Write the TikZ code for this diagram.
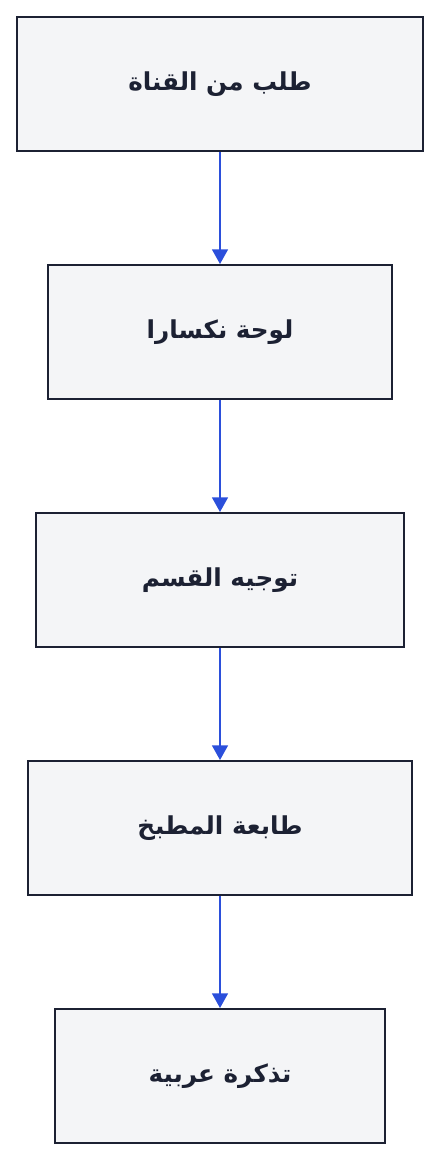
\documentclass[tikz,border=0pt]{standalone}
\usepackage{fontspec}
\newfontfamily\arabicfont[Script=Arabic]{DejaVu Sans}
\TeXXeTstate=1
\usetikzlibrary{arrows.meta}

\definecolor{rahmen}{rgb}{0.11,0.13,0.2}
\definecolor{feld}{rgb}{0.957,0.961,0.969}
\definecolor{blau}{rgb}{0.17,0.31,0.86}

\tikzset{
	kasten/.style={draw=rahmen,fill=feld,line width=1.5pt,
		minimum height=100.5pt,inner sep=0pt,text=rahmen,
		font=\arabicfont\bfseries\fontsize{18.5}{22}\selectfont},
	pfeil/.style={draw=blau,line width=1.1pt,
		-{Triangle[length=11pt,width=12pt]}}
}

\begin{document}
\begin{tikzpicture}[x=0.75pt,y=-0.75pt]
\useasboundingbox (0,0) rectangle (440,1160);

\node[kasten,minimum width=304.5pt] (kanal)   at (220,84)   {\beginR طلب من القناة\endR};
\node[kasten,minimum width=258pt]   (tafel)   at (220,332)  {\beginR لوحة نكسارا\endR};
\node[kasten,minimum width=276pt]   (bereich) at (220,580)  {\beginR توجيه القسم\endR};
\node[kasten,minimum width=288pt]   (drucker) at (220,828)  {\beginR طابعة المطبخ\endR};
\node[kasten,minimum width=247.5pt] (bon)     at (220,1076) {\beginR تذكرة عربية\endR};

\foreach \a/\b in {kanal/tafel,tafel/bereich,bereich/drucker,drucker/bon}{
	\draw[pfeil] (\a.south) -- (\b.north);
}

\end{tikzpicture}
\end{document}
